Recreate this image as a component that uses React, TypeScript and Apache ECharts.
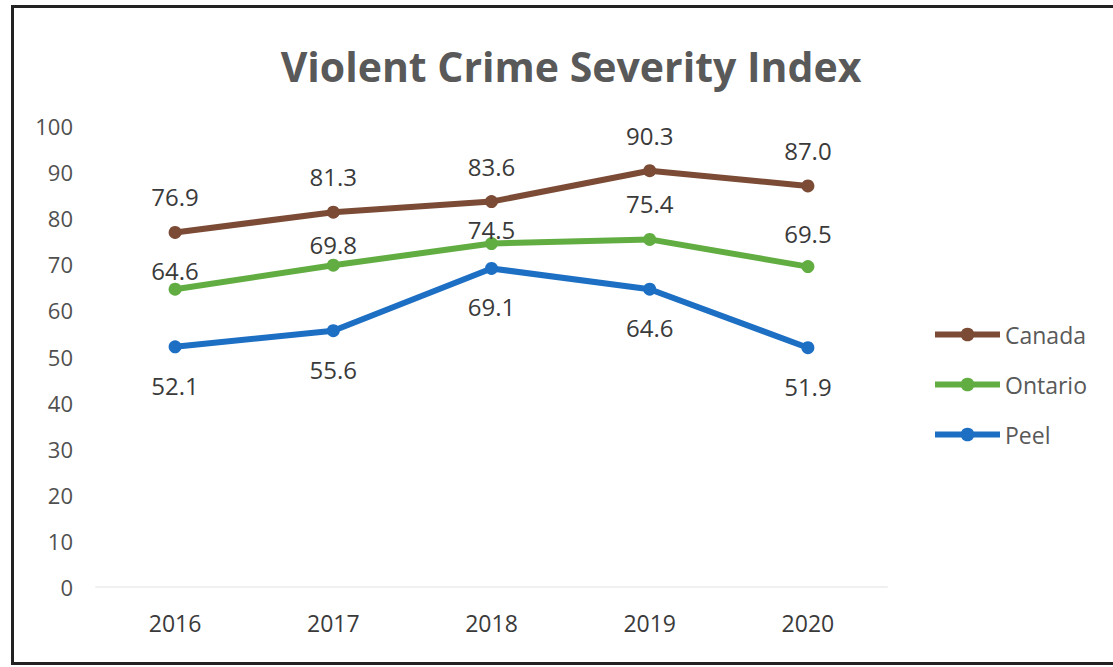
import React, { useEffect, useRef } from "react";
import * as echarts from "echarts";

const years = ["2016", "2017", "2018", "2019", "2020"];
const canada = [76.9, 81.3, 83.6, 90.3, 87.0];
const ontario = [64.6, 69.8, 74.5, 75.4, 69.5];
const peel = [52.1, 55.6, 69.1, 64.6, 51.9];
const canadaLabelDist = [17, 17, 17, 17, 17];
const ontarioLabelDist = [0, 2, -4, 17, 15];
const peelLabelDist = [20, 20, 20, 20, 20];
const yTicks = [0, 10, 20, 30, 40, 50, 60, 70, 80, 90, 100];

const FONT = "'Open Sans', 'Noto Sans', sans-serif";

export default function App() {
  const ref = useRef<HTMLDivElement>(null);
  useEffect(() => {
    if (!ref.current) return;
    const chart = echarts.init(ref.current, null, { renderer: "svg" });
    const labelStyle = { fontFamily: FONT, fontSize: 24, color: "#3a3a3a" };
    const mk = (name: string, data: number[], color: string, pos: string, dists: number[]) => ({
      name,
      type: "line",
      data: data.map((v, i) => ({
        value: v,
        label: { distance: dists[i] },
      })),
      symbol: "circle",
      symbolSize: 13,
      lineStyle: { color, width: 6 },
      itemStyle: { color },
      label: {
        show: true,
        position: pos,
        formatter: (p: any) => Number(p.value).toFixed(1),
        ...labelStyle,
      },
    });
    chart.setOption({
      animation: false,
      backgroundColor: "#ffffff",
      title: {
        text: "Violent Crime Severity Index",
        left: 566,
        top: 40,
        textAlign: "center",
        textStyle: { fontFamily: FONT, fontSize: 41, fontWeight: "bold", color: "#595959" },
      },
      legend: {
        orient: "vertical",
        left: 932,
        top: 323,
        padding: 0,
        itemWidth: 65,
        itemHeight: 17,
        itemGap: 27,
        lineStyle: { width: 6 },
        textStyle: { fontFamily: FONT, fontSize: 23, color: "#595959" },
        data: ["Canada", "Ontario", "Peel"],
      },
      grid: { left: 96, top: 126, width: 791, height: 461 },
      xAxis: {
        type: "category",
        data: years,
        axisLine: { show: true, lineStyle: { color: "#f0f0f0", width: 2 } },
        axisTick: { show: false },
        axisLabel: { fontFamily: FONT, fontSize: 23, color: "#3a3a3a", margin: 24 },
      },
      yAxis: {
        type: "value",
        min: yTicks[0],
        max: yTicks[yTicks.length - 1],
        interval: 10,
        axisLine: { show: false },
        axisTick: { show: false },
        splitLine: { show: false },
        axisLabel: { fontFamily: FONT, fontSize: 22, color: "#505050", margin: 23 },
      },
      graphic: [
        { type: "rect", shape: { x: 11, y: 5, width: 1102, height: 3 }, style: { fill: "#222" }, silent: true, z: 100 },
        { type: "rect", shape: { x: 11, y: 5, width: 3, height: 659 }, style: { fill: "#222" }, silent: true, z: 100 },
        { type: "rect", shape: { x: 11, y: 662, width: 1102, height: 3 }, style: { fill: "#222" }, silent: true, z: 100 },
      ],
      series: [
        mk("Canada", canada, "#7b4b36", "top", canadaLabelDist),
        mk("Ontario", ontario, "#62ad42", "top", ontarioLabelDist),
        mk("Peel", peel, "#1d6fc4", "bottom", peelLabelDist),
      ],
    });
    return () => chart.dispose();
  }, []);
  return (
    <div
      ref={ref}
      style={{ position: "fixed", left: 0, top: 0, width: 1113, height: 667 }}
    />
  );
}
